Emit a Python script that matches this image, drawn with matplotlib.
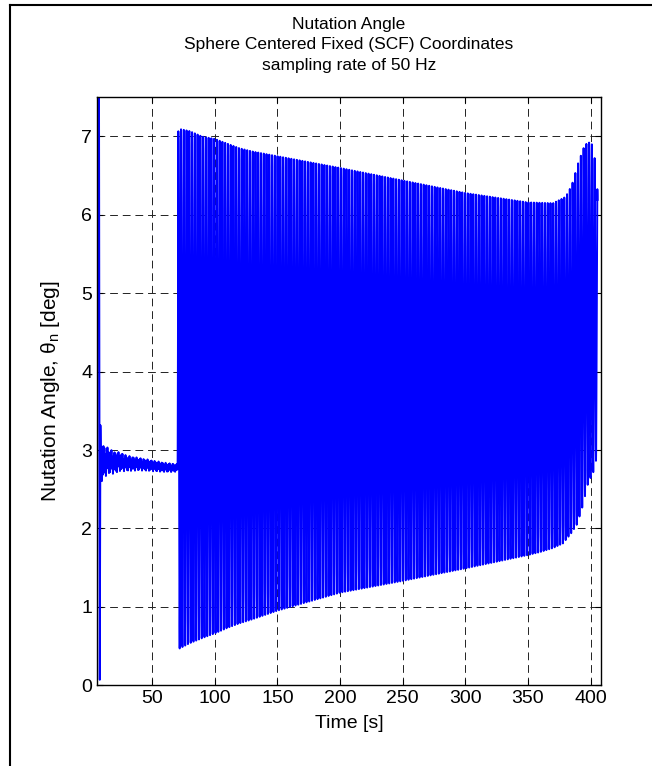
import numpy as np
import matplotlib.pyplot as plt
from matplotlib.lines import Line2D

plt.rcParams['font.family'] = ['Liberation Sans', 'DejaVu Sans']
plt.rcParams['mathtext.fontset'] = 'custom'
plt.rcParams['mathtext.rm'] = 'Liberation Sans'

fs = 50.0  # sampling rate [Hz]

# start-up transient
t_start = [6.1, 6.6, 7.2, 7.6, 8.3, 8.8]
th_start = [0.35, 8.5, 7.05, 8.5, 0.07, 3.3]

# settling phase before spin-up: mean level and half spread
t_settle = [8.8, 10.0, 12.0, 15.0, 20.0, 25.0, 30.0, 40.0, 50.0, 60.0, 70.4]
mean_settle = [2.90, 2.86, 2.85, 2.86, 2.84, 2.85, 2.83, 2.82, 2.80, 2.78, 2.77]
amp_settle = [0.42, 0.26, 0.20, 0.17, 0.14, 0.12, 0.10, 0.08, 0.07, 0.06, 0.05]

# nutation envelope after spin-up
t_hi = [70.4, 71.0, 80, 90, 100, 110, 120, 130, 150, 200, 250, 300, 350,
        370, 380, 385, 390, 395, 398, 401, 403, 405.5]
th_hi = [2.80, 7.10, 7.07, 7.00, 6.97, 6.91, 6.85, 6.81, 6.75, 6.60, 6.44,
         6.28, 6.16, 6.15, 6.23, 6.38, 6.66, 6.88, 6.93, 6.90, 6.75, 6.30]
t_lo = [70.4, 71.0, 80, 90, 100, 110, 120, 130, 150, 200, 250, 300, 350,
        360, 370, 378, 385, 389, 393, 398, 403.3, 405.5]
th_lo = [2.75, 0.46, 0.535, 0.60, 0.66, 0.73, 0.79, 0.84, 0.95, 1.18, 1.33,
         1.49, 1.66, 1.70, 1.75, 1.81, 1.95, 2.05, 2.25, 2.58, 2.76, 3.0]
period = 2.2  # nutation period [s]

xticks = [50, 100, 150, 200, 250, 300, 350, 400]
yticks = [0, 1, 2, 3, 4, 5, 6, 7]

# build the sampled angle history
t1 = np.arange(t_settle[0], t_settle[-1], 1 / fs)
m1 = np.interp(t1, t_settle, mean_settle)
a1 = np.interp(t1, t_settle, amp_settle)
y1 = m1 + a1 * (0.65 * np.cos(2 * np.pi * t1 / 0.8) + 0.35 * np.cos(2 * np.pi * t1 / 2.9))

t2 = np.arange(t_hi[0], t_hi[-1], 1 / fs)
hi = np.interp(t2, t_hi, th_hi)
lo = np.interp(t2, t_lo, th_lo)
y2 = 0.5 * (hi + lo) + 0.5 * (hi - lo) * np.sin(2 * np.pi * (t2 - t2[0]) / period)

t = np.concatenate([t_start, t1, t2])
theta = np.concatenate([th_start, y1, y2])

fig = plt.figure(figsize=(6.52, 7.66), dpi=100)
ax = fig.add_axes([0.1488, 0.1054, 0.7725, 0.7676])
ax.plot(t, theta, color='b', lw=1.4)

ax.set_xlim(6.1, 408)
ax.set_ylim(0, 7.5)
ax.set_xticks(xticks)
ax.set_yticks(yticks)
ax.grid(True, color='#222222', linestyle=(0, (8, 5)), lw=0.7)
ax.tick_params(direction='in', top=True, right=True, length=4, labelsize=14)
for s in ax.spines.values():
    s.set_linewidth(1.0)

ax.set_xlabel('Time [s]', fontsize=14, labelpad=6)
ax.set_ylabel(r'Nutation Angle, θ$_\mathrm{n}$ [deg]', fontsize=15, labelpad=14)
ax.set_title('Nutation Angle\nSphere Centered Fixed (SCF) Coordinates\nsampling rate of 50 Hz',
             fontsize=12.5, linespacing=1.45, pad=20)

# window frame edges
fig.add_artist(Line2D([10 / 652, 10 / 652], [0, 1 - 5 / 766], color='k', lw=1.5))
fig.add_artist(Line2D([10 / 652, 1], [1 - 5 / 766, 1 - 5 / 766], color='k', lw=1.5))

fig.savefig('out.png', dpi=100)
